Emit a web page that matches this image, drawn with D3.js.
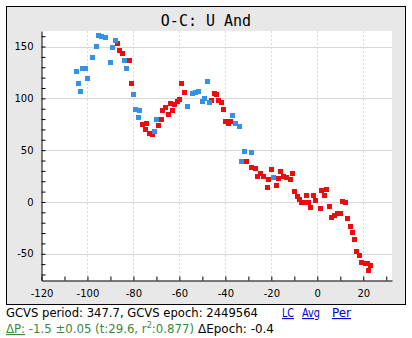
<!DOCTYPE html>
<html>
<head>
<meta charset="utf-8">
<script src="https://cdn.jsdelivr.net/npm/d3@7/dist/d3.min.js"></script>
<style>
  html, body { margin: 0; padding: 0; background: #ffffff; }
  svg { display: block; }
</style>
</head>
<body>
<script>
// O-C residuals for U And, per observation set (cycle number vs days)
const blueE  = [-104.9,-104.1,-103.2,-102.3,-100.9,-100.1,-98.0,-96.2,-95.0,-93.9,-92.3,-90.1,-89.3,-88.0,-84.0,-83.2,-80.1,-79.1,-77.2,-77.9,-70.1,-70.9,-56.6,-54.5,-53.2,-51.8,-50.0,-49.0,-47.9,-47.1,-36.9,-35.5,-34.0,-31.8,-28.8,-33.1,-18.9];
const blueOC = [126.3,114.6,107.0,129.1,129.1,119.5,139.8,150.4,161.1,159.4,158.3,134.9,149.5,156.3,137.0,129.1,104.1,89.4,88.3,81.5,79.8,67.8,92.6,104.9,105.9,107.0,97.2,99.7,116.4,96.2,83.9,76.0,73.3,49.1,47.9,39.4,23.4];

const redE  = [-87.1,-86.1,-84.8,-81.9,-80.9,-76.1,-74.2,-74.9,-73.2,-71.9,-69.3,-68.0,-67.3,-66.2,-64.9,-63.1,-64.0,-62.0,-61.0,-60.0,-59.1,-57.9,-47.1,-46.1,-44.9,-43.8,-43.2,-41.9,-40.9,-40.0,-38.7,-37.8,-30.7,-28.6,-27.1,-26.1,-24.7,-23.4,-21.2,-21.8,-20.0,-17.8,-17.0,-16.1,-14.8,-13.4,-11.7,-10.9,-10.0,-8.7,-7.6,-6.8,-5.7,-4.7,-4.0,-3.0,-1.8,-0.7,1.2,1.9,3.0,4.2,5.3,6.2,7.5,8.9,10.1,11.1,12.2,13.0,14.4,15.2,16.1,17.0,18.2,19.1,20.8,21.8,23.1,22.3];
const redOC = [153.3,146.6,143.7,136.9,114.6,75.2,75.7,70.1,66.5,65.5,74.1,79.8,88.1,91.2,84.7,88.6,95.3,94.1,96.5,98.5,114.6,105.9,96.2,98.3,104.9,103.8,97.8,96.0,89.4,77.6,76.2,77.6,38.9,32.9,32.1,24.9,27.5,24.1,21.5,13.9,31.4,16.0,22.9,29.0,24.7,23.9,21.7,27.5,10.1,5.2,2.1,-1.0,-0.6,6.3,-0.8,-5.6,6.3,1.4,-6.4,11.3,6.0,12.3,-4.4,-14.6,-13.2,-11.4,-10.7,0.7,-0.3,-16.3,-23.7,-29.5,-36.3,-47.9,-52.1,-58.2,-59.1,-59.8,-61.6,-66.1];

const xTicks = d3.range(-120, 33, 10);
const yTicks = d3.range(-70, 161, 10);
const xGrid = [-100, -80, -60, -40, -20, 0, 20];
const yGrid = [-50, 0, 50, 100, 150];

const title = "O-C: U And";

(function () {
const W = 412, H = 338;
const svg = d3.select("body").append("svg").attr("width", W).attr("height", H);

// outer panel
svg.append("rect")
  .attr("x", 6.5).attr("y", 6.5).attr("width", 399).attr("height", 298)
  .attr("fill", "#e8e8e8").attr("stroke", "#000").attr("stroke-width", 1);

const pl = 41.5, pr = 392, pt = 31, pb = 280.5;
const x = d3.scaleLinear().domain([-120, 32.5]).range([pl, pr]);
const y = d3.scaleLinear().domain([-75.8, 165]).range([pb, pt]);

// plotting area
svg.append("rect")
  .attr("x", pl).attr("y", pt).attr("width", pr - pl).attr("height", pb - pt)
  .attr("fill", "#ffffff");

// grid
svg.append("g").selectAll("line").data(yGrid).join("line")
  .attr("x1", pl).attr("x2", pr)
  .attr("y1", d => Math.round(y(d)) + 0.5).attr("y2", d => Math.round(y(d)) + 0.5)
  .attr("stroke", "#d8d8d8").attr("stroke-width", 1);

svg.append("g").selectAll("line").data(xGrid).join("line")
  .attr("x1", d => Math.round(x(d)) + 0.5).attr("x2", d => Math.round(x(d)) + 0.5)
  .attr("y1", pt).attr("y2", pb)
  .attr("stroke", "#efd0d0").attr("stroke-width", 1).attr("stroke-dasharray", "2,2");

// markers
const sz = 5;
function drawSeries(ex, oc, color) {
  svg.append("g").selectAll("rect").data(ex.map((e, i) => [e, oc[i]])).join("rect")
    .attr("x", d => Math.round(x(d[0]) - sz / 2))
    .attr("y", d => Math.round(y(d[1]) - sz / 2))
    .attr("width", sz).attr("height", sz)
    .attr("fill", color);
}
drawSeries(redE, redOC, "#ec0c10");
drawSeries(blueE, blueOC, "#3392e8");

// axes
const fmt = d => String(d);
const xAxis = d3.axisBottom(x).tickValues(xTicks).tickSizeInner(-4).tickSizeOuter(0)
  .tickPadding(9.5).tickFormat(d => d % 20 === 0 ? fmt(d) : "");
const yAxis = d3.axisLeft(y).tickValues(yTicks).tickSizeInner(-4).tickSizeOuter(0)
  .tickPadding(8).tickFormat(d => d % 50 === 0 ? fmt(d) : "");

const gx = svg.append("g").attr("transform", `translate(0,${pb})`).call(xAxis);
const gy = svg.append("g").attr("transform", `translate(${pl},0)`).call(yAxis);
[gx, gy].forEach(g => {
  g.selectAll("text").attr("font-family", "'DejaVu Sans', Verdana, sans-serif")
    .attr("font-size", 10).attr("fill", "#000");
  g.selectAll("path, line").attr("stroke", "#000");
});

// title
svg.append("text")
  .attr("x", 206).attr("y", 26).attr("text-anchor", "middle")
  .attr("font-family", "'DejaVu Sans Mono', monospace").attr("font-size", 15)
  .attr("fill", "#000").text(title);

// info lines under the panel
const infoFont = "'DejaVu Sans', Verdana, sans-serif";
const fs = 11.5;
svg.append("text")
  .attr("x", 6).attr("y", 317).attr("font-family", infoFont).attr("font-size", fs)
  .attr("textLength", 252).attr("lengthAdjust", "spacingAndGlyphs")
  .attr("fill", "#000").text("GCVS period: 347.7, GCVS epoch: 2449564");

const links = [["LC", 282, 12], ["Avg", 302, 18], ["Per", 332, 19]];
svg.append("g").selectAll("text").data(links).join("text")
  .attr("x", d => d[1]).attr("y", 317)
  .attr("font-family", infoFont).attr("font-size", fs)
  .attr("textLength", d => d[2]).attr("lengthAdjust", "spacingAndGlyphs")
  .attr("fill", "#0000cc").attr("text-decoration", "underline")
  .text(d => d[0]);

const green = "#3a8a3a";
const l2 = svg.append("text").attr("x", 6).attr("y", 333)
  .attr("font-family", infoFont).attr("font-size", fs).attr("fill", green);
l2.append("tspan").attr("text-decoration", "underline").text("ΔP:");
l2.append("tspan").text(" -1.5 ±0.05 (t:29.6, r");
l2.append("tspan").attr("font-size", 8).attr("dy", -5).text("2");
l2.append("tspan").attr("dy", 5).text(":0.877)");
l2.attr("textLength", 188).attr("lengthAdjust", "spacingAndGlyphs");

svg.append("text").attr("x", 198).attr("y", 333)
  .attr("font-family", infoFont).attr("font-size", fs).attr("fill", "#000")
  .attr("textLength", 76).attr("lengthAdjust", "spacingAndGlyphs")
  .text("ΔEpoch: -0.4");
})();
</script>
</body>
</html>
